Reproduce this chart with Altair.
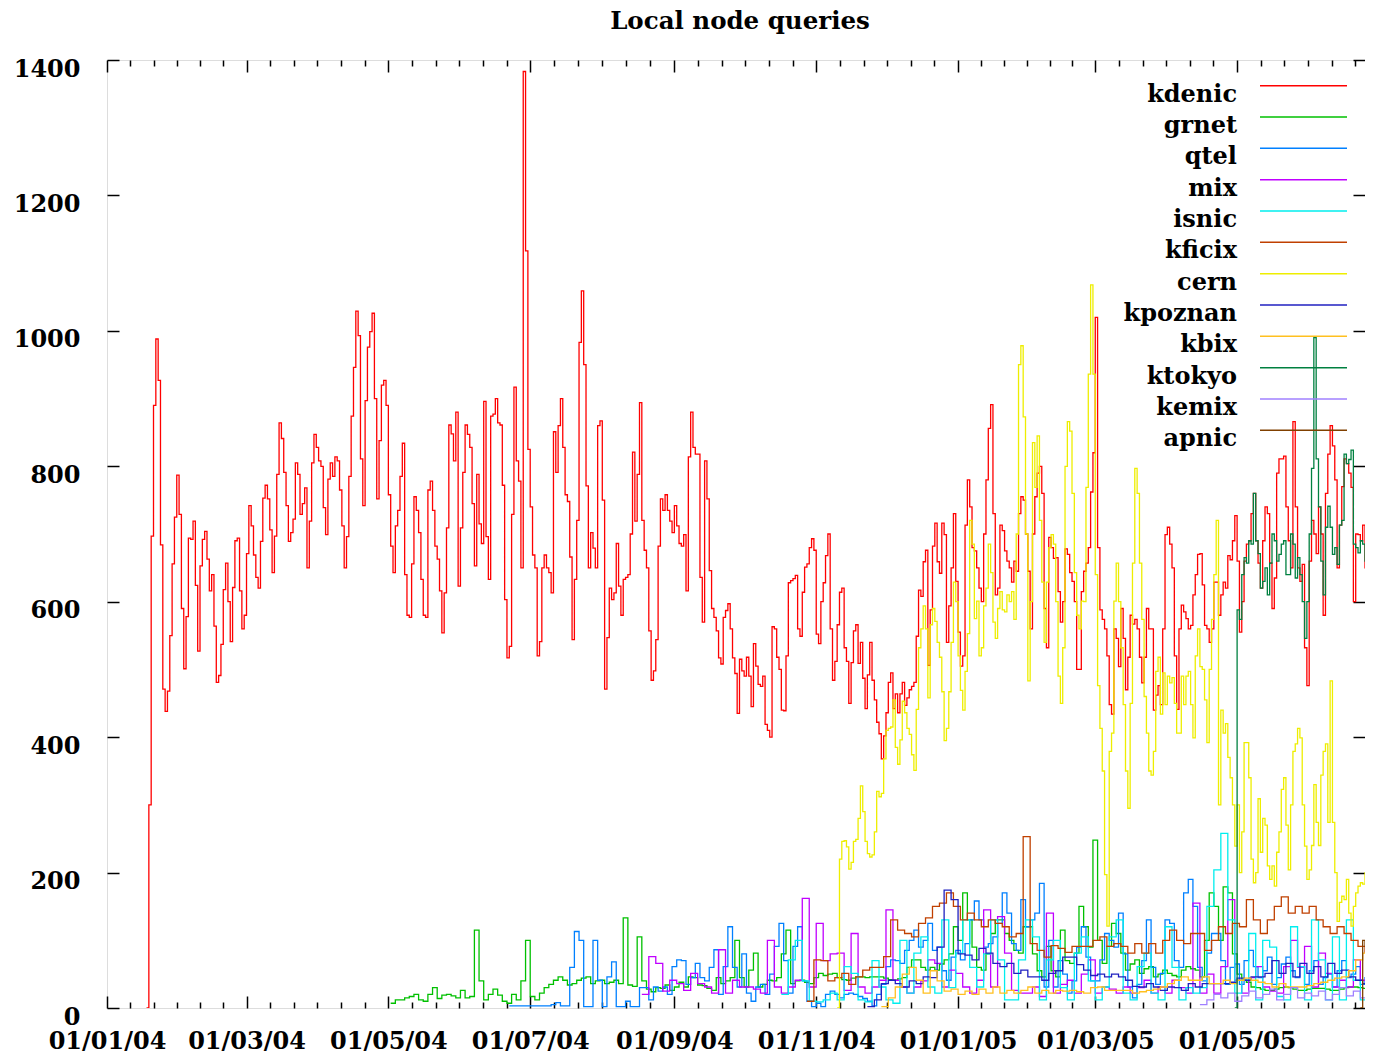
import datetime as dt
import pandas as pd
import altair as alt

TITLE = "Local node queries"
SERIES = ["kdenic", "grnet", "qtel", "mix", "isnic", "kficix",
          "cern", "kpoznan", "kbix", "ktokyo", "kemix", "apnic"]
COLORS = ["#ff0000", "#00c000", "#0080ff", "#c000ff", "#00eeee", "#c04000",
          "#eeee00", "#2020c0", "#ffc020", "#008040", "#a080ff", "#804000"]

X_START = dt.date(2004, 1, 1)
X_END = dt.date(2005, 6, 25)
MAJOR_TICKS = [dt.date(2004, 1, 1), dt.date(2004, 3, 1), dt.date(2004, 5, 1),
               dt.date(2004, 7, 1), dt.date(2004, 9, 1), dt.date(2004, 11, 1),
               dt.date(2005, 1, 1), dt.date(2005, 3, 1), dt.date(2005, 5, 1)]
NEXT_MAJOR = dt.date(2005, 7, 1)
Y_TICKS = [0, 200, 400, 600, 800, 1000, 1200, 1400]

# each series: first day (offset from 1 Jan 2004), step in days, values
KDENIC_START, KDENIC_STEP = 17, 1
KDENIC = [
    0, 300,
    697, 890, 988, 927, 684, 471, 438, 468, 550, 656, 725, 787, 729, 590, 501, 578, 694, 692, 719, 624,
    527, 653, 692, 704, 663, 616, 640, 564, 481, 491, 537, 618, 657, 600, 541, 621, 690, 694, 616, 560,
    580, 671, 742, 712, 669, 636, 620, 689, 753, 772, 752, 706, 643, 697, 788, 864, 841, 791, 742, 689,
    702, 722, 805, 788, 729, 745, 768, 650, 719, 805, 847, 828, 808,
    800, 739, 699, 781, 805, 785, 814, 808, 765, 712, 650, 696, 785, 874, 946, 1029, 993, 811, 742, 897,
    976, 999, 1026, 900, 752, 838, 920, 927, 890, 758, 682, 643, 712, 735, 785, 834, 640, 580, 577, 656,
    755, 735, 702, 633, 580, 577, 765, 778, 735, 682, 663, 616, 554, 613, 709, 861, 848, 808, 880, 623,
    709, 791, 861, 847, 828, 745, 653, 788, 715, 686, 896, 696, 633, 874, 877, 900, 864, 861, 772, 603,
    517, 534, 729, 917, 808, 778, 650, 1383, 1118, 825,
    740, 669, 650, 520, 541, 650, 669, 650, 643, 613, 851, 791, 860, 900, 828, 758, 748, 666, 544, 633,
    720, 983, 1059, 950, 771, 650, 702, 679, 650, 860, 867, 750, 471, 547, 620, 603, 613, 686, 623, 580,
    633, 636, 640, 700, 821, 719, 788, 894, 720, 676, 650, 557, 484, 498, 544, 682, 752, 735, 758, 735,
    719, 702, 742, 712, 686, 682, 699, 616, 814, 880, 828, 818, 818, 636, 570, 808, 752, 646, 590, 577,
    557, 517, 508, 577, 587, 597, 560, 517, 494, 435,
    515, 498, 490, 518, 490, 445, 538, 505, 478, 475, 490, 419, 410, 400, 563, 560, 518, 500, 440, 439,
    520, 628, 631, 634, 639, 560, 549, 614, 651, 656, 680, 693, 676, 552, 538, 600, 628, 668, 700, 560,
    484, 512, 566, 614, 620, 532, 512, 450, 510, 557, 566, 509, 540, 487, 442, 492, 540, 484, 455, 422,
    405, 368, 402, 436, 481, 495, 442, 464, 436, 464, 481, 447, 458, 470, 475, 481, 549, 617, 608, 659,
    676, 506, 588, 682, 716, 659, 642, 716, 699, 540, 594,
    650, 730, 630, 555, 505, 520, 713, 780, 740, 680, 675, 650, 620, 600, 700, 780, 856, 891, 730, 610,
    620, 713, 705, 675, 660, 650, 629, 660, 645, 730, 755, 750, 700, 645, 560, 700, 755, 790, 800, 760,
    590, 532, 695, 680, 664, 665, 615, 570, 600, 678, 670, 643, 630, 600, 500, 500, 615, 645, 657, 680,
    762, 820, 1020, 680, 588, 574, 560, 520, 448, 434, 560, 546, 504, 590, 546, 470, 518, 580, 567, 574,
    560, 518, 480, 518, 590, 560, 560, 440, 462, 476,
    448, 560, 699, 710, 685, 650, 520, 441, 560, 595, 585, 575, 560, 565, 610, 640, 670, 671, 625, 565,
    560, 540, 560, 629, 629, 580, 610, 629, 620, 668, 662, 690, 727, 660, 555, 600, 660, 685, 690, 730,
    760, 690, 657, 620, 690, 740, 730, 657, 590, 635, 790, 811, 811, 815, 740, 690, 650, 866, 740, 650,
    630, 655, 532, 476, 660, 720, 700, 671, 740, 700, 580, 760, 818, 860, 830, 780, 650, 713, 770, 811,
    804, 790, 769, 600, 700, 699, 690, 713, 650, 615, 775,
]

GRNET_START, GRNET_STEP = 122, 2
GRNET = [
    7, 12, 12, 15, 17, 20, 12, 10, 20, 30, 14, 19, 20, 18, 15, 26, 15, 17, 115, 40,
    12, 20, 28, 19, 10, 7, 20, 12, 40, 100, 17, 12, 22, 30, 35, 41, 46, 41, 34, 36,
    41, 44, 46, 36, 40, 41, 36, 38, 41, 36, 133, 34, 32, 105, 40, 28, 24, 30, 29, 34,
    26, 31, 38, 31, 46, 45, 34, 33, 29, 26,
    45, 36, 40, 45, 100, 45, 31, 56, 81, 31, 35, 41, 40, 45, 80, 115, 36, 40, 41, 38,
    36, 45, 51, 48, 50, 51, 45, 42, 41, 44, 46, 46, 45, 46, 46, 46, 44, 42, 41, 43,
    45, 60, 71, 71, 60, 56, 60, 56, 65, 71, 80, 120, 100, 170, 130, 90, 60, 56, 80, 110,
    130, 130, 110, 100, 85, 81, 120,
    120, 80, 55, 46, 91, 55, 46, 115, 70, 66, 81, 150, 120, 90, 248, 100, 66, 91, 125, 110,
    81, 56, 65, 71, 51, 58, 61, 46, 50, 56, 51, 48, 46, 56, 61, 58, 56, 46, 100, 170,
    150, 100, 179, 170, 80, 50, 41, 38, 31, 30, 28, 26, 26, 28, 30, 31, 30, 28, 26, 26,
    28, 29, 29, 29, 28, 26, 26, 28, 30, 31, 31, 30, 29, 29,
]

QTEL_START, QTEL_STEP = 173, 2
QTEL = [
    3, 3, 3, 3, 3, 3, 3, 3, 3, 5, 8, 3, 3, 60, 113, 100, 2, 2, 100, 41,
    2, 46, 68, 2, 2, 10, 2, 2, 30, 30, 12, 31, 25, 31, 20, 61, 71, 70, 35, 45,
    66, 45, 40, 60,
    86, 20, 61, 120, 60, 31, 80, 22, 10, 31, 35, 20, 50, 91, 125, 70, 22, 91, 120, 40,
    10, 2, 7, 2, 20, 25, 20, 15, 20, 22, 20, 17, 14, 10, 3, 20, 35, 61, 71, 70,
    66, 85, 100, 115, 90, 100, 125, 85, 90, 55, 41, 75, 85, 71, 95, 130, 158, 130, 90, 95,
    105, 125, 170, 140, 95, 85, 160, 120,
    130, 140, 184, 31, 100, 31, 70, 50, 22, 40, 90, 120, 75, 40, 40, 71, 110, 100, 90, 140,
    80, 31, 15, 35, 70, 130, 60, 35, 51, 130, 125, 70, 60, 170, 190, 150, 60, 40, 81, 110,
    110, 70, 35, 60, 65, 35, 70, 85, 61, 45, 55, 75, 35, 45, 65, 75, 55, 45, 61, 35,
    55, 70, 35, 45, 50, 31, 55, 70, 45, 50, 61, 35, 45, 51,
]

MIX_START, MIX_STEP = 230, 3
MIX = [
    20, 76, 66, 25, 41, 36, 26, 51, 36, 31, 22, 86, 22, 41, 31, 31, 28, 22, 100, 31,
    22, 31, 41, 162, 31, 125, 70, 80, 81, 26, 110, 31, 22, 31, 41, 145, 41, 31, 22, 31,
    40, 71, 66, 31, 56, 51, 31, 22, 41, 145, 31, 135, 81, 26, 22, 22, 31, 17, 140, 22,
    35, 41, 22, 50, 71, 22, 31, 28, 22, 31, 22, 30, 41, 22, 31, 22, 41, 30, 22, 155,
    22, 50, 22, 61, 160, 41, 22, 45, 61, 31, 25, 22, 61, 100, 60, 91, 31, 81, 51, 31,
    41, 31, 71, 41, 31,
]

ISNIC_START, ISNIC_STEP = 290, 3
ISNIC = [
    20, 71, 100, 40, 10, 9, 12, 22, 12, 61, 51, 12, 9, 70, 31, 12, 7, 100, 22, 81,
    105, 31, 22, 130, 30, 81, 130, 60, 31, 80, 130, 71, 12, 12, 71, 130, 105, 12, 71, 100,
    30, 12, 81, 105, 40, 12, 31, 105, 130, 22, 12, 61, 81, 22, 12, 120, 60, 12, 30, 22,
    30, 150, 204, 258, 130, 22, 41, 110, 12, 100, 90, 17, 12, 120, 61, 12, 130, 71, 12, 105,
    12, 130, 41, 12, 81,
]

KFICIX_START, KFICIX_STEP = 301, 3
KFICIX = [
    10, 71, 70, 40, 45, 51, 35, 46, 56, 60, 60, 76, 130, 115, 110, 105, 125, 133, 150, 155,
    170, 150, 130, 140, 130, 120, 130, 125, 120, 105, 110, 253, 95, 85, 75, 92, 88, 82, 91, 91,
    91, 100, 105, 91, 95, 91, 81, 95, 81, 95, 81, 100, 115, 100, 95, 110, 110, 85, 100, 120,
    110, 125, 120, 160, 130, 110, 130, 150, 164, 140, 150, 140, 150, 130, 120, 110, 120, 110, 100, 91,
    81,
]

CERN_START, CERN_STEP = 314, 1
CERN = [
    0,
    220, 246, 247, 238, 205, 215, 246, 249, 280, 328, 290, 246, 228, 223, 226, 260, 320, 312, 317, 368,
    410, 413, 415, 455, 385, 360, 396, 453, 436, 413, 404, 374, 351, 441, 532, 560, 594, 560, 458, 566,
    590, 571, 540, 518, 467, 395, 413, 467,
    540, 629, 600, 520, 469, 440, 497, 553, 720, 685, 575, 601, 520, 532, 594, 620, 685, 643, 570, 546,
    590, 615, 588, 585, 610, 600, 615, 574, 700, 950, 978, 873, 700, 483, 600, 835, 769, 845, 720, 629,
    540, 629, 680, 699, 685, 600, 490, 450, 532, 800, 866, 852, 760, 643, 580, 560, 601, 600, 769, 936,
    1068, 936, 640, 476, 413, 350, 197, 121, 379, 406, 601, 657, 600, 532, 448, 350, 295, 450, 657, 797,
    760, 657, 574, 460, 406, 350, 344, 379, 497, 518,
    434, 495, 448, 490, 480, 488, 450, 406, 406, 490, 448, 490, 497, 448, 399, 520, 560, 504, 500, 455,
    392, 500, 574, 640, 720, 300, 440, 406, 420, 370, 340, 300, 239, 300, 200, 260, 392, 392, 340, 220,
    185, 200, 309, 230, 280, 270, 210, 190, 210, 180, 230, 260, 323, 340, 270, 204, 300, 379, 390, 413,
    399, 300, 239, 190, 204, 240, 330, 274, 240, 344, 379, 390, 274, 483, 274, 200, 128, 156, 165, 160,
    190, 140, 121, 150, 170, 180, 185, 183, 200, 205, 170,
]

KPOZNAN_START, KPOZNAN_STEP = 327, 3
KPOZNAN = [
    2, 12, 36, 41, 36, 31, 40, 36, 46, 45, 90, 174, 160, 80, 78, 71, 88, 81, 66, 61,
    66, 51, 56, 46, 46, 41, 51, 55, 75, 75, 64, 56, 48, 50, 46, 50, 46, 41, 32, 31,
    36, 31, 26, 31, 30, 26, 36, 31, 36, 36, 36, 36, 38, 44, 41, 46, 46, 51, 70, 51,
    66, 46, 66, 51, 61, 46, 66, 51, 56, 46, 41, 36, 46,
]

KBIX_START, KBIX_STEP = 333, 3
KBIX = [
    2, 15, 31, 50, 60, 41, 22, 55, 40, 25, 28, 20, 25, 20, 28, 22, 31, 22, 26, 22,
    26, 31, 22, 26, 22, 26, 25, 26, 24, 22, 30, 31, 26, 26, 26, 26, 22, 24, 26, 28,
    31, 36, 41, 46, 41, 41, 46, 36, 36, 41, 36, 41, 44, 41, 38, 36, 31, 36, 31, 31,
    31, 33, 36, 38, 41, 44, 46, 55, 71, 81, 61,
]

KTOKYO_START, KTOKYO_STEP = 485, 1
KTOKYO = [
    0, 588, 574, 640, 665, 657, 690, 685, 760, 690, 671, 620, 630, 650, 610, 657, 700, 690, 660, 670,
    685, 690, 640, 640, 700, 685, 635, 665, 640, 600, 546, 600, 700, 797, 990, 811, 740, 660, 610, 710,
    741, 710, 670, 680, 655, 713, 720, 818, 804, 810, 824, 685, 680, 672, 690, 685, 660, 645, 560,
]

KEMIX_START, KEMIX_STEP = 470, 3
KEMIX = [5, 12, 20, 15, 22, 10, 18, 25, 15, 20, 28, 12, 20, 30, 15, 22, 18, 25, 12, 20,
         30, 18, 25, 15, 20]

APNIC_START, APNIC_STEP = 539, 1
APNIC = [0, 100, 90]

SPEC = {
    "kdenic": (KDENIC_START, KDENIC_STEP, KDENIC),
    "grnet": (GRNET_START, GRNET_STEP, GRNET),
    "qtel": (QTEL_START, QTEL_STEP, QTEL),
    "mix": (MIX_START, MIX_STEP, MIX),
    "isnic": (ISNIC_START, ISNIC_STEP, ISNIC),
    "kficix": (KFICIX_START, KFICIX_STEP, KFICIX),
    "cern": (CERN_START, CERN_STEP, CERN),
    "kpoznan": (KPOZNAN_START, KPOZNAN_STEP, KPOZNAN),
    "kbix": (KBIX_START, KBIX_STEP, KBIX),
    "ktokyo": (KTOKYO_START, KTOKYO_STEP, KTOKYO),
    "kemix": (KEMIX_START, KEMIX_STEP, KEMIX),
    "apnic": (APNIC_START, APNIC_STEP, APNIC),
}

records = []
for name in SERIES:
    start, step, vals = SPEC[name]
    for i, v in enumerate(vals):
        records.append({
            "date": pd.Timestamp(X_START + dt.timedelta(days=start + i * step)),
            "series": name,
            "value": v,
        })
df = pd.DataFrame(records)

# ---------------------------------------------------------------- layout
W, H = 1258, 948
FONT = "DejaVu Serif"


def to_dt(d):
    if isinstance(d, dt.datetime):
        return alt.DateTime(year=d.year, month=d.month, date=d.day,
                            hours=d.hour, minutes=d.minute)
    return alt.DateTime(year=d.year, month=d.month, date=d.day)


major_vals = [to_dt(d) for d in MAJOR_TICKS]
bounds = MAJOR_TICKS + [NEXT_MAJOR]
minor_vals = []
for a, b in zip(bounds[:-1], bounds[1:]):
    A = dt.datetime.combine(a, dt.time())
    B = dt.datetime.combine(b, dt.time())
    for k in range(1, 6):
        m = A + (B - A) * k / 6
        if m.date() <= X_END:
            minor_vals.append(to_dt(m))

x_scale = alt.Scale(domain=[to_dt(X_START), to_dt(X_END)])
y_scale = alt.Scale(domain=[0, 1400], nice=False, zero=False)
color_scale = alt.Scale(domain=SERIES, range=COLORS)

x_label_axis = alt.Axis(orient="bottom", values=major_vals, format="%d/%m/%y",
                        ticks=False, tickSize=0, domain=False, grid=False, title=None,
                        labelFont=FONT, labelFontWeight="bold", labelFontSize=24,
                        labelColor="black", labelPadding=40, labelBaseline="alphabetic",
                        labelFlush=False, labelOverlap=False, labelBound=False, labelAngle=0)
y_label_axis = alt.Axis(orient="left", values=Y_TICKS, format="d",
                        ticks=False, tickSize=0, domain=False, grid=False, title=None,
                        labelFont=FONT, labelFontWeight="bold", labelFontSize=24,
                        labelColor="black", labelPadding=27, labelBaseline="alphabetic",
                        labelOffset=16, labelFlush=False, labelOverlap=False, labelBound=False)


def tick_axis(orient, values, size, offset):
    return alt.Axis(orient=orient, offset=offset, values=values, ticks=True,
                    tickSize=size, tickColor="black", tickWidth=1.5, labels=False,
                    domain=False, grid=False, title=None)


line_layers = []
for name in SERIES:
    line_layers.append(
        alt.Chart(df)
        .transform_filter(alt.datum.series == name)
        .mark_line(interpolate="step-after", strokeWidth=1.3, clip=True)
        .encode(
            x=alt.X("date:T", scale=x_scale, axis=x_label_axis),
            y=alt.Y("value:Q", scale=y_scale, axis=y_label_axis),
            color=alt.Color("series:N", scale=color_scale, legend=None),
        )
    )
main = alt.layer(*line_layers)


def tick_layer(x_axis, y_axis):
    return (
        alt.Chart(df)
        .transform_filter(alt.datum.series == "kdenic")
        .mark_line(opacity=0, clip=True)
        .encode(
            x=alt.X("date:T", scale=x_scale, axis=x_axis),
            y=alt.Y("value:Q", scale=y_scale, axis=y_axis),
        )
    )


# inward ticks: axes moved to the opposite edge so that ticks point into the plot
t_bottom_major = tick_layer(tick_axis("top", major_vals, 12, -H), tick_axis("right", Y_TICKS, 12, -W))
t_top_major = tick_layer(tick_axis("bottom", major_vals, 12, -H), tick_axis("left", Y_TICKS, 12, -W))
t_bottom_minor = tick_layer(tick_axis("top", minor_vals, 6, -H), None)
t_top_minor = tick_layer(tick_axis("bottom", minor_vals, 6, -H), None)

# legend (labels left of line samples, as in the original)
leg_df = pd.DataFrame({"series": SERIES})
leg_y = alt.Y("series:N", sort=SERIES, axis=None,
              scale=alt.Scale(type="point", range=[25.7, 370.3], padding=0))
leg_rules = alt.Chart(leg_df).mark_rule(strokeWidth=1.5).encode(
    x=alt.value(1153), x2=alt.value(1240), y=leg_y,
    color=alt.Color("series:N", scale=color_scale, legend=None),
)
leg_text = alt.Chart(leg_df).mark_text(
    align="right", baseline="alphabetic", dy=16, font=FONT, fontWeight="bold",
    fontSize=24, color="black",
).encode(x=alt.value(1130), y=leg_y, text="series:N")

title_layer = alt.Chart(pd.DataFrame({"t": [TITLE]})).mark_text(
    align="center", baseline="alphabetic", font=FONT, fontWeight="bold",
    fontSize=24.5, color="black",
).encode(x=alt.value(633), y=alt.value(-31), text="t:N")

chart = (
    alt.layer(main, t_bottom_major, t_top_major, t_bottom_minor, t_top_minor,
              leg_rules, leg_text, title_layer)
    .resolve_scale(x="independent", y="independent")
    .properties(width=W, height=H,
                autosize=alt.AutoSizeParams(type="none"),
                padding={"left": 99, "top": 52, "right": 0, "bottom": 45})
    .configure_view(stroke="black", strokeWidth=1.5)
    .configure(background="white")
)

chart.save("out.html", embed_options={"renderer": "svg", "actions": False})
